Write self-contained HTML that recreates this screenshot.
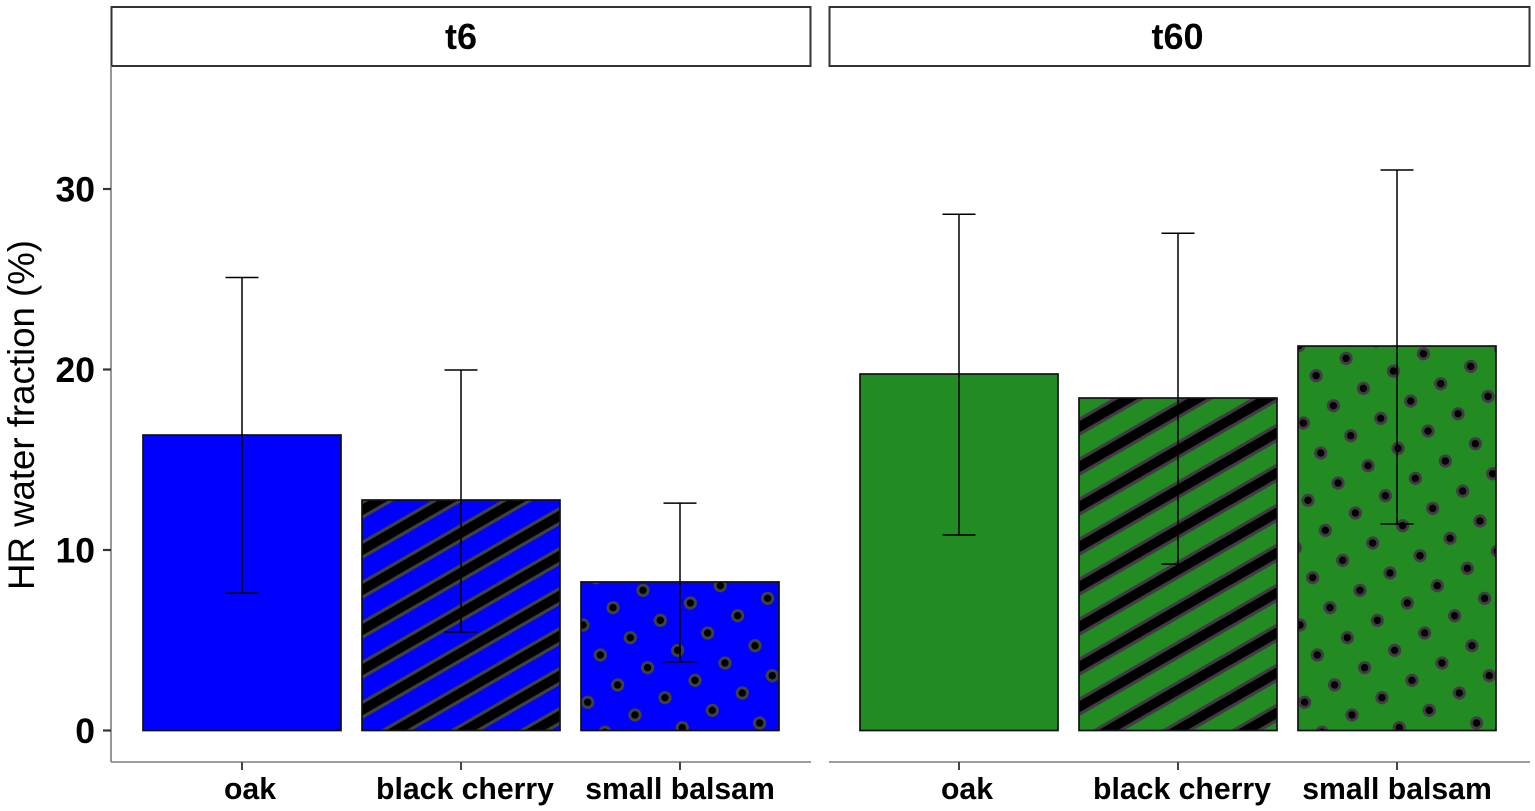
<!DOCTYPE html>
<html>
<head>
<meta charset="utf-8">
<title>HR water fraction</title>
<style>
html,body{margin:0;padding:0;background:#fff;width:1535px;height:811px;overflow:hidden}
svg{display:block}
text{font-family:"Liberation Sans",Arial,sans-serif;fill:#000}
</style>
</head>
<body>
<svg id="chart" xmlns="http://www.w3.org/2000/svg" width="1535" height="811" viewBox="0 0 1535 811">
  <defs id="defs"></defs>
  <text transform="translate(34,415) rotate(-90)" text-anchor="middle" font-size="37.5" textLength="350" lengthAdjust="spacingAndGlyphs">HR water fraction (%)</text>
</svg>
<script>
var panels = ['t6', 't60'];
var categories = ['oak', 'black cherry', 'small balsam'];
var fills = ['plain', 'stripe', 'dots'];
var meansT6 = [16.37, 12.77, 8.23];
var lowerT6 = [7.62, 5.46, 3.8];
var upperT6 = [25.1, 19.97, 12.6];
var meansT60 = [19.75, 18.42, 21.3];
var lowerT60 = [10.83, 9.22, 11.44];
var upperT60 = [28.6, 27.55, 31.05];
var yTicks = [0, 10, 20, 30];

var NS = 'http://www.w3.org/2000/svg';
var svg = document.getElementById('chart');
var defs = document.getElementById('defs');
function y(v) { return 730.5 - v * 18.05; }
function make(tag, attrs, parent) {
  var el = document.createElementNS(NS, tag);
  for (var k in attrs) el.setAttribute(k, attrs[k]);
  (parent || svg).appendChild(el);
  return el;
}
var panelLeft = [111, 829];
var panelRight = [811, 1530];
var stripCenter = [461, 1177.5];
var firstBar = [143, 860];
var barColor = ['#0000ff', '#228b22'];
var ringColor = ['#414141', '#423a44'];
var stripePhase = [20.5, 23.5];
var labelNudge = [8, 4, 0];
var step = 219, barW = 198, period = 34.64;
var meansAll = [meansT6, meansT60];
var lowerAll = [lowerT6, lowerT60];
var upperAll = [upperT6, upperT60];

function stripePattern(id, left, p) {
  var pat = make('pattern', {id: id, patternUnits: 'userSpaceOnUse', width: period, height: period,
    patternTransform: 'translate(' + left + ',' + (y(0) - stripePhase[p]) + ') rotate(-30) translate(0,' + (-period / 2) + ')'}, defs);
  make('rect', {x: 0, y: 0, width: period, height: period, fill: barColor[p]}, pat);
  make('rect', {x: 0, y: period / 2 - 8, width: period, height: 16, fill: ringColor[p]}, pat);
  make('rect', {x: 0, y: period / 2 - 4.8, width: period, height: 9.6, fill: '#000'}, pat);
}
function dotPattern(id, left, p) {
  var pat = make('pattern', {id: id, patternUnits: 'userSpaceOnUse', width: period, height: period,
    patternTransform: 'translate(' + (left + 62) + ',' + (y(0) - 140.2) + ') rotate(-30) translate(' + (-period / 2) + ',' + (-period / 2) + ')'}, defs);
  make('rect', {x: 0, y: 0, width: period, height: period, fill: barColor[p]}, pat);
  make('circle', {cx: period / 2, cy: period / 2, r: 6.6, fill: ringColor[p]}, pat);
  make('circle', {cx: period / 2, cy: period / 2, r: 3.7, fill: '#000'}, pat);
}

panels.forEach(function (name, p) {
  var left = panelLeft[p], right = panelRight[p];

  var strip = make('rect', {x: left + 0.5, y: 7, width: right - left - 1, height: 59, fill: '#fff', stroke: '#333', 'stroke-width': 2});
  
  

  var stripText = make('text', {x: stripCenter[p], y: 49, 'text-anchor': 'middle', 'font-size': 36, 'font-weight': 'bold'});
  stripText.textContent = name;
  
  

  var xAxis = make('line', {x1: left, x2: right, y1: 762, y2: 762, stroke: '#7f7f7f', 'stroke-width': 1.6});
  
  

  categories.forEach(function (cat, i) {
    var bx = firstBar[p] + i * step;
    var cx = bx + barW / 2;
    var fill = barColor[p];
    var id = 'fill-' + p + '-' + i;
    if (fills[i] === 'stripe') { stripePattern(id, bx, p); fill = 'url(#' + id + ')'; }
    if (fills[i] === 'dots') { dotPattern(id, bx, p); fill = 'url(#' + id + ')'; }

    var bar = make('rect', {x: bx, y: y(meansAll[p][i]), width: barW, height: y(0) - y(meansAll[p][i]), fill: fill, stroke: '#111', 'stroke-width': 1.7});
    
    

    var g = make('g', {stroke: '#000', 'stroke-width': 1.5});
    
    
    make('line', {x1: cx, x2: cx, y1: y(lowerAll[p][i]), y2: y(upperAll[p][i])}, g);
    make('line', {x1: cx - 16.5, x2: cx + 16.5, y1: y(lowerAll[p][i]), y2: y(lowerAll[p][i])}, g);
    make('line', {x1: cx - 16.5, x2: cx + 16.5, y1: y(upperAll[p][i]), y2: y(upperAll[p][i])}, g);

    var tick = make('line', {x1: cx, x2: cx, y1: 762, y2: 770, stroke: '#444', 'stroke-width': 2});
    
    

    var label = make('text', {x: cx + labelNudge[i], y: 799, 'text-anchor': 'middle', 'font-size': 30.2, 'font-weight': 'bold'});
    label.textContent = cat;
    
    
  });
});

var yAxis = make('line', {x1: 111, x2: 111, y1: 66, y2: 762, stroke: '#7f7f7f', 'stroke-width': 1.6});



yTicks.forEach(function (t) {
  var tick = make('line', {x1: 103, x2: 111, y1: y(t), y2: y(t), stroke: '#333', 'stroke-width': 2.2});
  
  
  var label = make('text', {x: 95, y: y(t) + 12.5, 'text-anchor': 'end', 'font-size': 35.5, 'font-weight': 'bold'});
  label.textContent = t;
  
  
});
</script>
</body>
</html>
